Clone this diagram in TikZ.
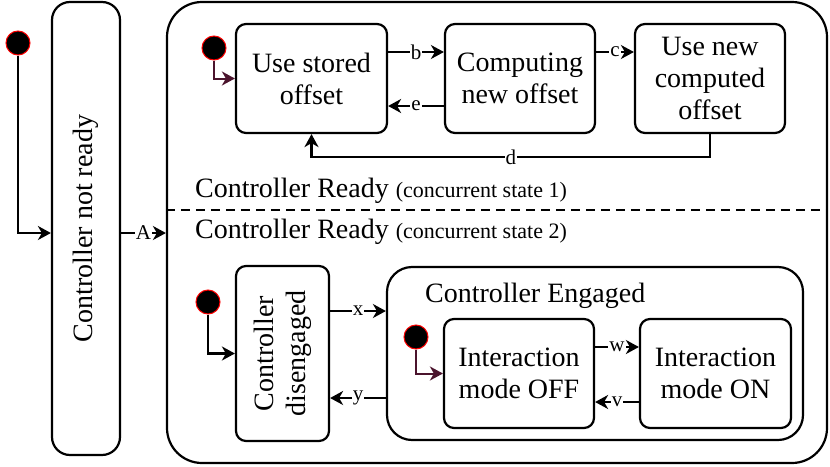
\documentclass[tikz,border=0pt]{standalone}
\usepackage{fontspec}
\setmainfont{Liberation Serif}
\usetikzlibrary{arrows.meta}
\definecolor{initcol}{RGB}{75,20,45}
\begin{document}
\begin{tikzpicture}[x=1pt,y=-1pt,
  every node/.style={inner sep=0pt},
  bigfont/.style={font=\fontsize{28}{32}\selectfont},
  statebox/.style={draw, line width=2.2pt, rounded corners=10pt, align=center, bigfont},
  initdot/.style={circle, fill=black, draw=red, line width=1pt, minimum size=24pt},
  trans/.style={line width=2.2pt, -{Stealth[length=13pt,width=14pt,inset=4pt]}},
  inittrans/.style={line width=2pt, draw=initcol, -{Stealth[length=13pt,width=14pt,inset=4pt]}},
  lbl/.style={fill=white, font=\fontsize{21}{24}\selectfont, inner sep=1pt},
]
\useasboundingbox (0,0) rectangle (830,466);

% outer states
\node[draw, line width=2.2pt, rounded corners=18pt, minimum width=68pt, minimum height=453pt] (notready) at (86,228.5) {};
\node[rotate=90, bigfont] (notreadytxt) at (notready.center) {Controller not ready};
\node[draw, line width=2.2pt, rounded corners=35pt, minimum width=660pt, minimum height=461pt] (ready) at (497,232.5) {};

\node[initdot] (init0) at (18,43) {};
\coordinate (aY) at (0,233);
\draw[trans] (init0) |- (notready.west |- aY);
\draw[trans] (notready.east |- aY) -- node[lbl]{A} (ready.west |- aY);

% concurrent regions
\coordinate (dashY) at (0,210);
\draw[line width=2.2pt, dash pattern=on 9pt off 6pt] (ready.west |- dashY) -- (ready.east |- dashY);
\node[anchor=base west, bigfont] (cr1) at (195,197) {Controller Ready {\fontsize{22}{24}\selectfont (concurrent state 1)}};
\node[anchor=base west, bigfont] (cr2) at (195,238) {Controller Ready {\fontsize{22}{24}\selectfont (concurrent state 2)}};

% region 1
\node[statebox, minimum width=151pt, minimum height=109pt] (s1) at (311.5,78.5) {Use stored\\offset};
\node[statebox, minimum width=150pt, minimum height=109pt] (s2) at (520,78.5) {Computing\\new offset};
\node[statebox, minimum width=150pt, minimum height=109pt] (s3) at (710,78.5) {Use new\\computed\\offset};
\node[initdot] (init1) at (214,48) {};
\draw[inittrans] (init1) |- (s1.west);
\coordinate (topY) at (0,52);
\coordinate (botY) at (0,106);
\coordinate (dY) at (0,157);
\draw[trans] (s1.east |- topY) -- node[lbl]{b} (s2.west |- topY);
\draw[trans] (s2.east |- topY) -- node[lbl]{c} (s3.west |- topY);
\draw[trans] (s2.west |- botY) -- node[lbl]{e} (s1.east |- botY);
\draw[trans] (s3.south) -- (s3.south |- dY) -- node[lbl]{d} (s1.south |- dY) -- (s1.south);

% region 2
\node[statebox, minimum width=93pt, minimum height=175pt] (dis) at (282.5,353.5) {};
\node[rotate=90, bigfont, align=center] (distxt) at (dis.center) {Controller\\disengaged};
\node[initdot] (init2) at (208,302) {};
\draw[trans] (init2) |- (dis.west);
\node[draw, line width=2.2pt, rounded corners=25pt, minimum width=416pt, minimum height=173pt] (eng) at (595,353.5) {};
\node[anchor=base west, bigfont] (engtxt) at (425,302) {Controller Engaged};
\coordinate (xY) at (0,311);
\coordinate (yY) at (0,398);
\draw[trans] (dis.east |- xY) -- node[lbl]{x} (eng.west |- xY);
\draw[trans] (eng.west |- yY) -- node[lbl]{y} (dis.east |- yY);

\node[statebox, minimum width=150pt, minimum height=109pt] (off) at (519,373.5) {Interaction\\mode OFF};
\node[statebox, minimum width=151pt, minimum height=109pt] (on) at (715.5,373.5) {Interaction\\mode ON};
\node[initdot] (init3) at (416,337) {};
\draw[inittrans] (init3) |- (off.west);
\coordinate (wY) at (0,347);
\coordinate (vY) at (0,402);
\draw[trans] (off.east |- wY) -- node[lbl]{w} (on.west |- wY);
\draw[trans] (on.west |- vY) -- node[lbl]{v} (off.east |- vY);
\end{tikzpicture}
\end{document}
